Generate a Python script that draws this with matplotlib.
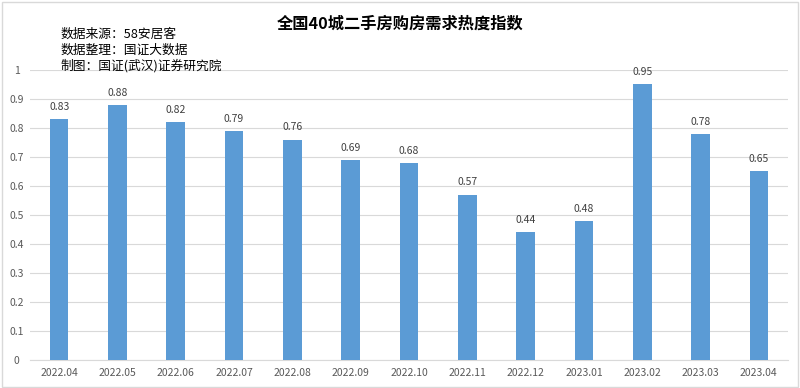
import matplotlib.pyplot as plt
from matplotlib.patches import Rectangle

plt.rcParams['font.family'] = ['Noto Sans CJK SC', 'DejaVu Sans']

months = ['2022.04', '2022.05', '2022.06', '2022.07', '2022.08', '2022.09', '2022.10',
          '2022.11', '2022.12', '2023.01', '2023.02', '2023.03', '2023.04']
index = [0.83, 0.88, 0.82, 0.79, 0.76, 0.69, 0.68, 0.57, 0.44, 0.48, 0.95, 0.78, 0.65]
yticks = [0, 0.1, 0.2, 0.3, 0.4, 0.5, 0.6, 0.7, 0.8, 0.9, 1]
ytick_labels = ['0', '0.1', '0.2', '0.3', '0.4', '0.5', '0.6', '0.7', '0.8', '0.9', '1']

fig = plt.figure(figsize=(8, 3.88), dpi=100)
ax = fig.add_axes([0.0375, 0.0722, 0.9475, 0.7474])

x = range(len(months))
bars = ax.bar(x, index, width=0.32, color='#5B9BD5', zorder=3)
for xi, v in zip(x, index):
    ax.text(xi, v + 0.025, f'{v:.2f}', ha='center', va='bottom', fontsize=7.5, color='#404040')

ax.set_xlim(-0.5, len(months) - 0.5)
ax.set_ylim(0, 1)
ax.set_yticks(yticks)
ax.set_yticklabels(ytick_labels, ha='center')
ax.set_xticks(list(x))
ax.set_xticklabels(months)
ax.tick_params(axis='both', length=0, labelsize=7.5, labelcolor='#595959')
ax.tick_params(axis='y', pad=9.5)
ax.tick_params(axis='x', pad=6)
ax.grid(axis='y', color='#D9D9D9', linewidth=0.8, zorder=0)
for s in ['top', 'right', 'left']:
    ax.spines[s].set_visible(False)
ax.spines['bottom'].set_color('#D9D9D9')

fig.text(0.5, 0.94, '全国40城二手房购房需求热度指数', ha='center', va='center',
         fontsize=11.7, fontweight='bold', color='#000000')
notes = ['数据来源：58安居客', '数据整理：国证大数据', '制图：国证(武汉)证券研究院']
for i, t in enumerate(notes):
    fig.text(0.076, 0.912 - i * 0.041, t, ha='left', va='center', fontsize=9.2, color='#000000')

fig.patches.append(Rectangle((0.002, 0.003), 0.995, 0.993, transform=fig.transFigure,
                             fill=False, edgecolor='#D9D9D9', linewidth=1))

fig.savefig('out.png', dpi=100)
